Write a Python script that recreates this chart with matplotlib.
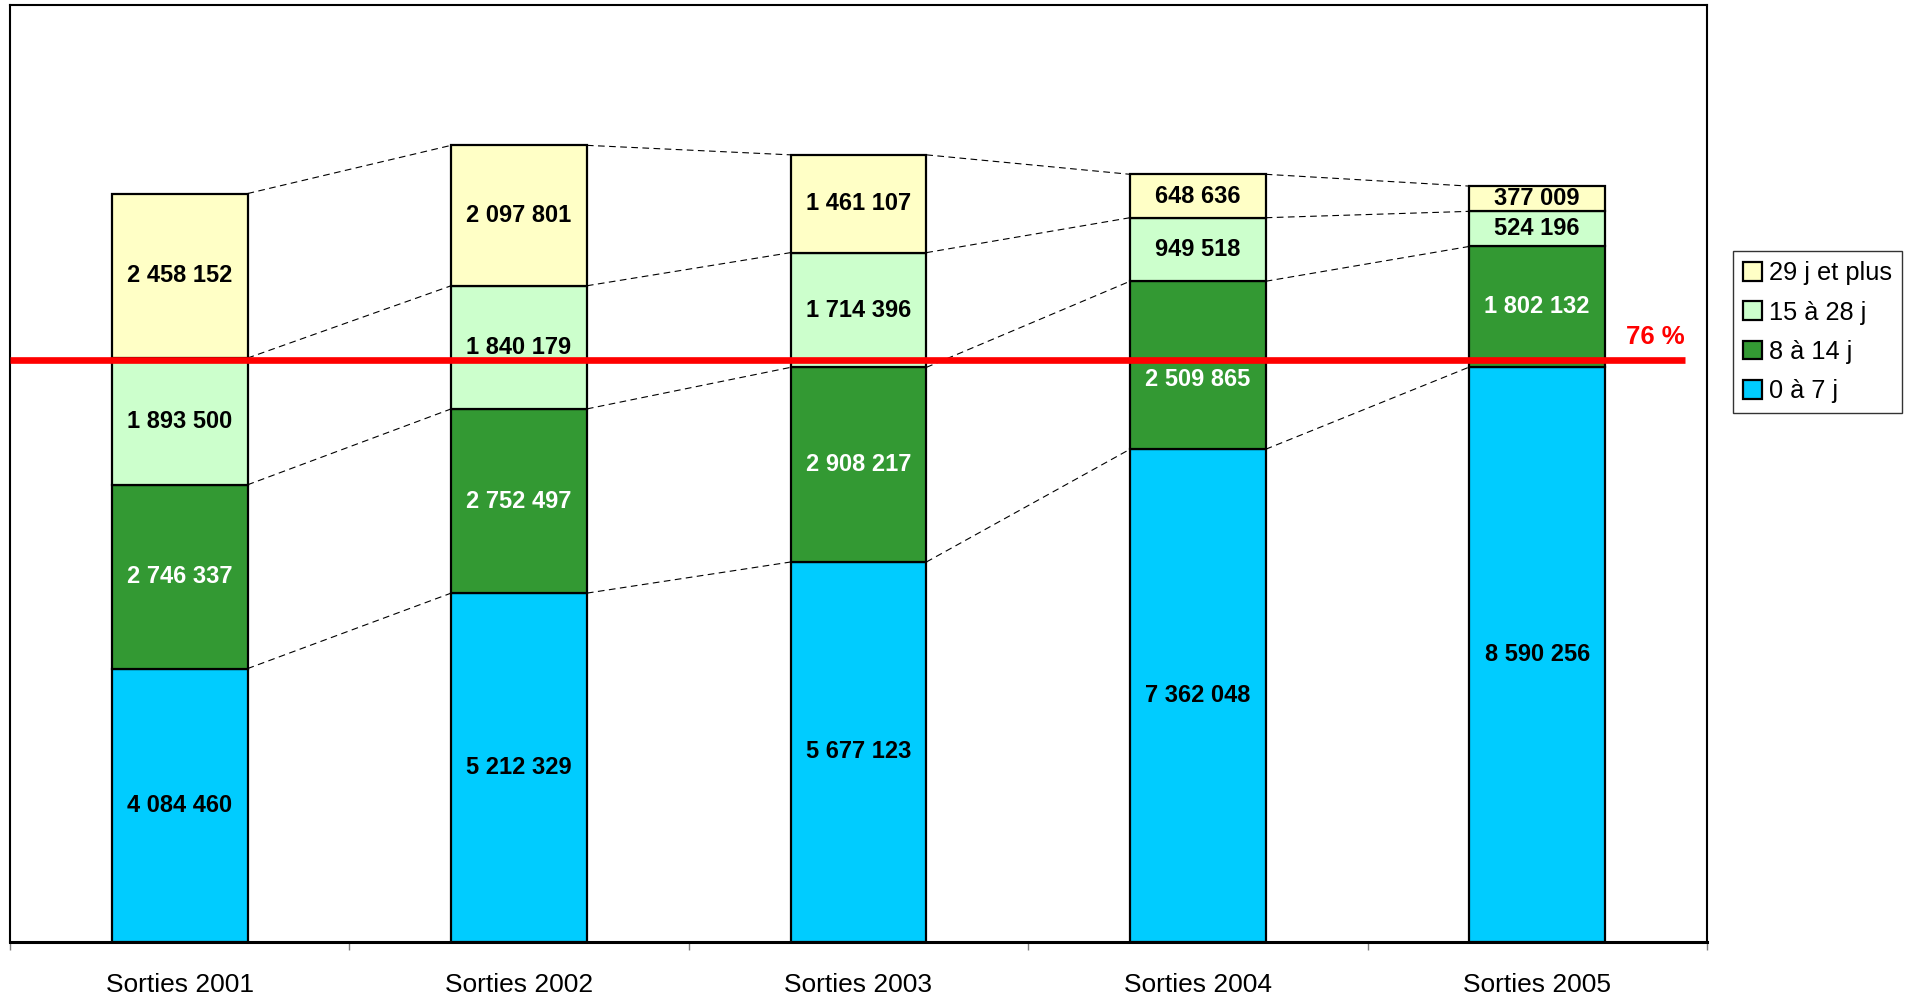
import numpy as np
import matplotlib.pyplot as plt

plt.rcParams['font.family'] = ['Liberation Sans', 'DejaVu Sans']

# data
years = ['Sorties 2001', 'Sorties 2002', 'Sorties 2003', 'Sorties 2004', 'Sorties 2005']
j0_7 = [4084460, 5212329, 5677123, 7362048, 8590256]
j8_14 = [2746337, 2752497, 2908217, 2509865, 1802132]
j15_28 = [1893500, 1840179, 1714396, 949518, 524196]
j29_plus = [2458152, 2097801, 1461107, 648636, 377009]
labels = ['0 à 7 j', '8 à 14 j', '15 à 28 j', '29 j et plus']
colors = ['#00CCFF', '#339933', '#CCFFCC', '#FFFFC6']
text_colors = ['black', 'white', 'black', 'black']
ref_level = 8690000
ref_label = '76 %'

def fmt(v):
    return '{:,}'.format(v).replace(',', ' ')

fig = plt.figure(figsize=(19.14, 9.97), dpi=100)
ax = fig.add_axes([0.0052, 0.0552, 0.8866, 0.9398])

x = np.arange(len(years))
w = 0.4
series = [j0_7, j8_14, j15_28, j29_plus]
bottom = np.zeros(len(years))
for vals, lab, col, tc in zip(series, labels, colors, text_colors):
    vals = np.array(vals)
    ax.bar(x, vals, w, bottom=bottom, color=col, edgecolor='black',
           linewidth=1.6, label=lab, zorder=3)
    for xi, v, b0 in zip(x, vals, bottom):
        yc = b0 + v / 2
        # label sitting right on the red line gets pushed below it
        if abs(yc - ref_level) < 100000:
            yc = ref_level - 290000
        ax.text(xi, yc, fmt(v), ha='center', va='center',
                fontsize=17, fontweight='bold', color=tc, zorder=5)
    bottom = bottom + vals
    # dashed connectors between bars at each segment top
    for i in range(len(years) - 1):
        ax.plot([x[i] + w / 2, x[i + 1] - w / 2], [bottom[i], bottom[i + 1]],
                color='black', linestyle=(0, (6, 4)), linewidth=0.8, zorder=2)

# red reference line
ax.plot([-0.5, 4.435], [ref_level, ref_level], color='#FF0000', linewidth=4.8,
        zorder=4, solid_capstyle='butt')
ax.annotate(ref_label, (4.435, ref_level), xytext=(0, 8), textcoords='offset points',
            ha='right', va='bottom', color='#FF0000', fontsize=18.5, fontweight='bold')

ax.set_xlim(-0.5, 4.5)
ax.set_ylim(0, 14000000)
ax.set_yticks([])
ax.set_xticks(x)
ax.set_xticklabels(years, fontsize=19)
ax.tick_params(axis='x', which='major', length=0, pad=22)
ax.set_xticks(np.arange(-0.5, 5, 1), minor=True)
ax.tick_params(axis='x', which='minor', length=6, width=1, color='#808080', direction='out')
for s in ['left', 'top', 'right']:
    ax.spines[s].set_linewidth(1.5)
ax.spines['bottom'].set_linewidth(2.2)

h, l = ax.get_legend_handles_labels()
leg = fig.legend(h[::-1], l[::-1], loc='upper left', bbox_to_anchor=(0.9054, 0.748),
                 fontsize=18.3, frameon=True, fancybox=False, edgecolor='black',
                 handlelength=0.75, handleheight=0.75, handletextpad=0.25,
                 borderpad=0.4, labelspacing=0.6, borderaxespad=0)
leg.get_frame().set_linewidth(1)

fig.savefig('out.png', dpi=100)
